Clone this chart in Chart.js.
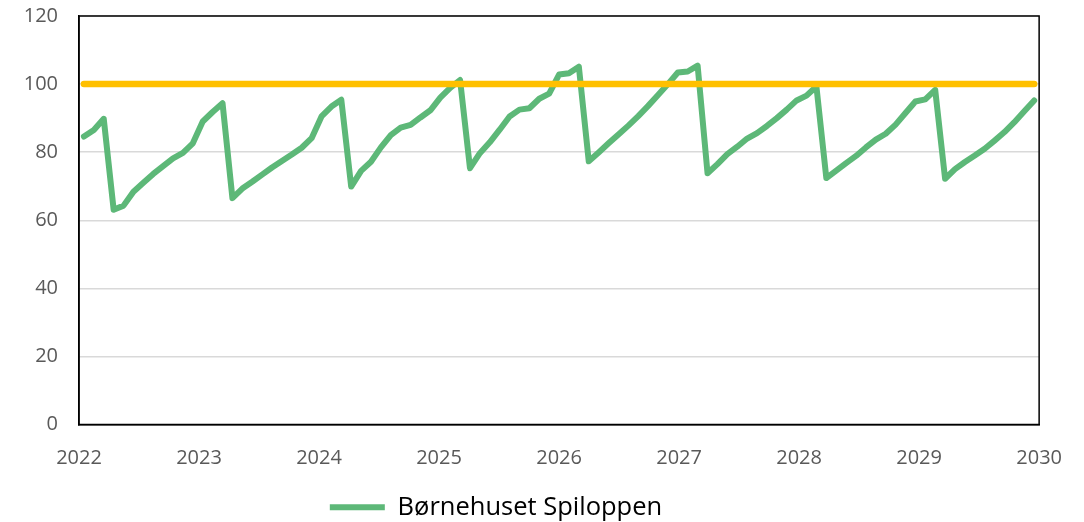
<!DOCTYPE html>
<html lang="no">
<head>
<meta charset="UTF-8">
<title>Børnehuset Spiloppen</title>
<script src="https://cdn.jsdelivr.net/npm/chart.js"></script>
<style>
  html, body { margin: 0; padding: 0; background: #fff; }
  #wrap { width: 1084px; height: 522px; }
</style>
</head>
<body>
<div id="wrap"><canvas id="chart" width="1084" height="522"></canvas></div>
<script>
const years = [2022, 2023, 2024, 2025, 2026, 2027, 2028, 2029, 2030];
const yTicks = [0, 20, 40, 60, 80, 100, 120];
const seriesName = 'Børnehuset Spiloppen';

// one value per month, Jan 2022 .. Jan 2030
const spiloppen = [
  84.6, 86.5, 89.8, 63.1, 64.3, 68.4, 71.0, 73.6, 75.9, 78.2, 79.8, 82.6,
  89.0, 91.8, 94.4, 66.5, 69.3, 71.3, 73.4, 75.5, 77.4, 79.3, 81.3, 84.1,
  90.5, 93.4, 95.4, 69.9, 74.5, 77.2, 81.4, 85.0, 87.2, 88.0, 90.2, 92.3,
  96.0, 98.9, 101.2, 75.3, 79.7, 82.9, 86.6, 90.5, 92.5, 92.9, 95.7, 97.2,
  102.8, 103.2, 105.1, 77.3, 79.9, 82.6, 85.2, 87.8, 90.6, 93.6, 96.8, 100.0,
  103.4, 103.7, 105.4, 73.8, 76.5, 79.4, 81.6, 84.0, 85.6, 87.7, 90.0, 92.5,
  95.2, 96.6, 99.3, 72.4, 74.6, 76.8, 78.9, 81.4, 83.7, 85.4, 88.1, 91.5,
  94.9, 95.5, 98.3, 72.2, 75.0, 77.1, 79.0, 81.0, 83.4, 85.9, 88.8, 92.0,
  95.2
];
const capacity = [
  100, 100, 100, 100, 100, 100, 100, 100, 100, 100, 100, 100,
  100, 100, 100, 100, 100, 100, 100, 100, 100, 100, 100, 100,
  100, 100, 100, 100, 100, 100, 100, 100, 100, 100, 100, 100,
  100, 100, 100, 100, 100, 100, 100, 100, 100, 100, 100, 100,
  100, 100, 100, 100, 100, 100, 100, 100, 100, 100, 100, 100,
  100, 100, 100, 100, 100, 100, 100, 100, 100, 100, 100, 100,
  100, 100, 100, 100, 100, 100, 100, 100, 100, 100, 100, 100,
  100, 100, 100, 100, 100, 100, 100, 100, 100, 100, 100, 100,
  100
];

const months = [];
years.slice(0, -1).forEach(y => {
  for (let m = 1; m <= 12; m++) months.push(y + '-' + String(m).padStart(2, '0'));
});
months.push(years[years.length - 1] + '-01');

const tickFont = { family: 'Open Sans', size: 20 };
const green = '#5DB878';

// closes the plot frame (top + right edges), nudges the legend into place
const frame = {
  id: 'frame',
  beforeDatasetsDraw(chart) {
    const { ctx, chartArea: a } = chart;
    ctx.save();
    ctx.strokeStyle = '#000';
    ctx.lineWidth = 1.5;
    ctx.strokeRect(a.left, a.top, a.right - a.left, a.bottom - a.top);
    ctx.restore();
  },
  afterLayout(chart) {
    const lg = chart.legend;
    lg.left -= 24; lg.right -= 24;
    lg.top += 8; lg.bottom += 8;
  }
};

new Chart(document.getElementById('chart'), {
  type: 'line',
  data: {
    labels: months,
    datasets: [
      {
        label: seriesName,
        data: spiloppen,
        xAxisID: 'x',
        borderColor: green,
        backgroundColor: green,
        borderWidth: 6,
        borderJoinStyle: 'round',
        borderCapStyle: 'round',
        pointRadius: 0,
        tension: 0,
        order: 2
      },
      {
        label: 'Kapasitet',
        data: capacity,
        xAxisID: 'x',
        borderColor: '#FFC000',
        backgroundColor: '#FFC000',
        borderWidth: 6.5,
        borderCapStyle: 'round',
        pointRadius: 0,
        order: 1
      }
    ]
  },
  options: {
    responsive: false,
    animation: false,
    devicePixelRatio: 1,
    layout: { padding: { top: 16, right: 44, left: 0, bottom: 0 } },
    scales: {
      x: { type: 'category', offset: true, display: false },
      x2: {
        type: 'linear',
        position: 'bottom',
        min: years[0],
        max: years[years.length - 1],
        afterBuildTicks: s => { s.ticks = years.map(v => ({ value: v })); },
        ticks: { font: tickFont, color: '#595959', padding: 22, callback: v => String(v), maxRotation: 0 },
        grid: { display: false, drawTicks: false },
        border: { display: true, color: '#000', width: 1.5 },
        afterFit: s => { s.height = 52; }
      },
      y: {
        min: 0,
        max: 120,
        afterBuildTicks: s => { s.ticks = yTicks.map(v => ({ value: v })); },
        ticks: { font: tickFont, color: '#595959', padding: 21 },
        grid: { color: '#D9D9D9', lineWidth: 1.5, drawTicks: false },
        border: { display: true, color: '#000', width: 1.5 },
        afterFit: s => { s.width = 79; s.paddingTop = 12; s.paddingBottom = 12; }
      }
    },
    plugins: {
      tooltip: { enabled: false },
      legend: {
        position: 'bottom',
        labels: {
          font: { family: 'Open Sans', size: 25.5 },
          color: '#000',
          boxWidth: 55,
          boxHeight: 6,
          padding: 10,
          generateLabels(chart) {
            return Chart.defaults.plugins.legend.labels.generateLabels(chart)
              .filter(l => l.datasetIndex === 0)
              .map(l => Object.assign(l, { lineWidth: 0, fillStyle: green }));
          }
        }
      }
    }
  },
  plugins: [frame]
});
</script>
</body>
</html>
